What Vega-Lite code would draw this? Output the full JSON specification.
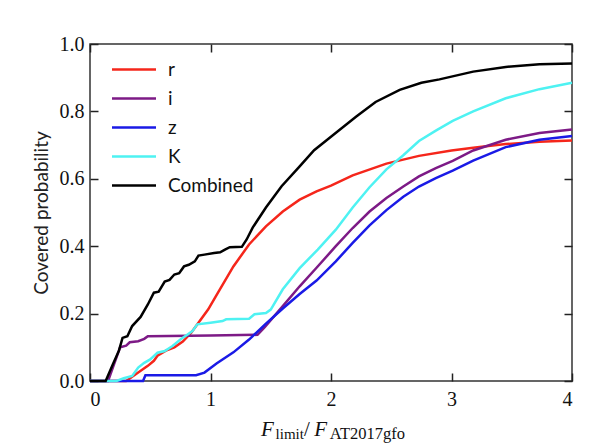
{
  "$schema": "https://vega.github.io/schema/vega-lite/v6.json",
  "width": 482,
  "height": 337,
  "autosize": {"type": "none"},
  "padding": {"left": 90, "top": 44, "right": 39, "bottom": 62},
  "background": "white",
  "config": {
    "view": {"stroke": "#333333", "strokeWidth": 1.5},
    "axis": {
      "grid": false,
      "domain": false,
      "tickColor": "#222222",
      "tickWidth": 1.5,
      "tickSize": -8,
      "labelFont": "Liberation Serif",
      "labelFontSize": 20,
      "labelColor": "#111111",
      "titleFont": "Lato",
      "titleFontSize": 19,
      "titleFontWeight": "normal",
      "titleColor": "#222222"
    }
  },
  "datasets": {
    "curves": [
      {"band": "r", "x": 0, "y": 0}, {"band": "r", "x": 0.30, "y": 0}, {"band": "r", "x": 0.40, "y": 0.025}, {"band": "r", "x": 0.48, "y": 0.045}, {"band": "r", "x": 0.53, "y": 0.06}, {"band": "r", "x": 0.56, "y": 0.075}, {"band": "r", "x": 0.63, "y": 0.09}, {"band": "r", "x": 0.70, "y": 0.10}, {"band": "r", "x": 0.77, "y": 0.117}, {"band": "r", "x": 0.84, "y": 0.143}, {"band": "r", "x": 0.90, "y": 0.173}, {"band": "r", "x": 0.98, "y": 0.212}, {"band": "r", "x": 1.05, "y": 0.255}, {"band": "r", "x": 1.19, "y": 0.34}, {"band": "r", "x": 1.32, "y": 0.405}, {"band": "r", "x": 1.46, "y": 0.459}, {"band": "r", "x": 1.60, "y": 0.503}, {"band": "r", "x": 1.74, "y": 0.538}, {"band": "r", "x": 1.88, "y": 0.563}, {"band": "r", "x": 2.0, "y": 0.58}, {"band": "r", "x": 2.18, "y": 0.61}, {"band": "r", "x": 2.46, "y": 0.645}, {"band": "r", "x": 2.73, "y": 0.668}, {"band": "r", "x": 3.0, "y": 0.684}, {"band": "r", "x": 3.18, "y": 0.692}, {"band": "r", "x": 3.45, "y": 0.703}, {"band": "r", "x": 3.73, "y": 0.71}, {"band": "r", "x": 4.0, "y": 0.714},
      {"band": "i", "x": 0, "y": 0}, {"band": "i", "x": 0.15, "y": 0}, {"band": "i", "x": 0.20, "y": 0.05}, {"band": "i", "x": 0.25, "y": 0.10}, {"band": "i", "x": 0.30, "y": 0.105}, {"band": "i", "x": 0.33, "y": 0.115}, {"band": "i", "x": 0.40, "y": 0.118}, {"band": "i", "x": 0.45, "y": 0.125}, {"band": "i", "x": 0.48, "y": 0.133}, {"band": "i", "x": 1.0, "y": 0.135}, {"band": "i", "x": 1.39, "y": 0.137}, {"band": "i", "x": 1.45, "y": 0.16}, {"band": "i", "x": 1.60, "y": 0.222}, {"band": "i", "x": 1.74, "y": 0.281}, {"band": "i", "x": 1.88, "y": 0.336}, {"band": "i", "x": 2.04, "y": 0.40}, {"band": "i", "x": 2.18, "y": 0.454}, {"band": "i", "x": 2.32, "y": 0.503}, {"band": "i", "x": 2.46, "y": 0.543}, {"band": "i", "x": 2.60, "y": 0.577}, {"band": "i", "x": 2.73, "y": 0.607}, {"band": "i", "x": 2.87, "y": 0.632}, {"band": "i", "x": 3.01, "y": 0.653}, {"band": "i", "x": 3.18, "y": 0.684}, {"band": "i", "x": 3.45, "y": 0.716}, {"band": "i", "x": 3.73, "y": 0.736}, {"band": "i", "x": 4.0, "y": 0.746},
      {"band": "z", "x": 0, "y": 0}, {"band": "z", "x": 0.44, "y": 0}, {"band": "z", "x": 0.46, "y": 0.017}, {"band": "z", "x": 0.88, "y": 0.017}, {"band": "z", "x": 0.95, "y": 0.025}, {"band": "z", "x": 1.05, "y": 0.052}, {"band": "z", "x": 1.19, "y": 0.085}, {"band": "z", "x": 1.32, "y": 0.123}, {"band": "z", "x": 1.46, "y": 0.17}, {"band": "z", "x": 1.60, "y": 0.215}, {"band": "z", "x": 1.74, "y": 0.258}, {"band": "z", "x": 1.88, "y": 0.298}, {"band": "z", "x": 2.04, "y": 0.355}, {"band": "z", "x": 2.18, "y": 0.41}, {"band": "z", "x": 2.32, "y": 0.462}, {"band": "z", "x": 2.46, "y": 0.507}, {"band": "z", "x": 2.60, "y": 0.547}, {"band": "z", "x": 2.73, "y": 0.577}, {"band": "z", "x": 2.87, "y": 0.602}, {"band": "z", "x": 3.01, "y": 0.624}, {"band": "z", "x": 3.18, "y": 0.654}, {"band": "z", "x": 3.45, "y": 0.694}, {"band": "z", "x": 3.73, "y": 0.716}, {"band": "z", "x": 4.0, "y": 0.727},
      {"band": "K", "x": 0, "y": 0}, {"band": "K", "x": 0.22, "y": 0}, {"band": "K", "x": 0.28, "y": 0.008}, {"band": "K", "x": 0.35, "y": 0.015}, {"band": "K", "x": 0.40, "y": 0.04}, {"band": "K", "x": 0.45, "y": 0.054}, {"band": "K", "x": 0.50, "y": 0.064}, {"band": "K", "x": 0.56, "y": 0.084}, {"band": "K", "x": 0.62, "y": 0.089}, {"band": "K", "x": 0.685, "y": 0.104}, {"band": "K", "x": 0.75, "y": 0.123}, {"band": "K", "x": 0.81, "y": 0.138}, {"band": "K", "x": 0.85, "y": 0.148}, {"band": "K", "x": 0.89, "y": 0.168}, {"band": "K", "x": 1.0, "y": 0.173}, {"band": "K", "x": 1.10, "y": 0.178}, {"band": "K", "x": 1.13, "y": 0.183}, {"band": "K", "x": 1.32, "y": 0.185}, {"band": "K", "x": 1.365, "y": 0.198}, {"band": "K", "x": 1.46, "y": 0.202}, {"band": "K", "x": 1.50, "y": 0.212}, {"band": "K", "x": 1.60, "y": 0.272}, {"band": "K", "x": 1.74, "y": 0.335}, {"band": "K", "x": 1.89, "y": 0.39}, {"band": "K", "x": 2.04, "y": 0.449}, {"band": "K", "x": 2.18, "y": 0.515}, {"band": "K", "x": 2.32, "y": 0.575}, {"band": "K", "x": 2.46, "y": 0.628}, {"band": "K", "x": 2.60, "y": 0.67}, {"band": "K", "x": 2.73, "y": 0.712}, {"band": "K", "x": 2.87, "y": 0.743}, {"band": "K", "x": 3.01, "y": 0.772}, {"band": "K", "x": 3.18, "y": 0.80}, {"band": "K", "x": 3.45, "y": 0.839}, {"band": "K", "x": 3.73, "y": 0.866}, {"band": "K", "x": 4.0, "y": 0.885},
      {"band": "Combined", "x": 0, "y": 0}, {"band": "Combined", "x": 0.13, "y": 0}, {"band": "Combined", "x": 0.19, "y": 0.05}, {"band": "Combined", "x": 0.24, "y": 0.09}, {"band": "Combined", "x": 0.27, "y": 0.128}, {"band": "Combined", "x": 0.31, "y": 0.133}, {"band": "Combined", "x": 0.35, "y": 0.163}, {"band": "Combined", "x": 0.42, "y": 0.19}, {"band": "Combined", "x": 0.48, "y": 0.227}, {"band": "Combined", "x": 0.53, "y": 0.262}, {"band": "Combined", "x": 0.57, "y": 0.265}, {"band": "Combined", "x": 0.62, "y": 0.295}, {"band": "Combined", "x": 0.66, "y": 0.30}, {"band": "Combined", "x": 0.70, "y": 0.316}, {"band": "Combined", "x": 0.74, "y": 0.32}, {"band": "Combined", "x": 0.78, "y": 0.34}, {"band": "Combined", "x": 0.82, "y": 0.345}, {"band": "Combined", "x": 0.87, "y": 0.355}, {"band": "Combined", "x": 0.90, "y": 0.372}, {"band": "Combined", "x": 0.95, "y": 0.375}, {"band": "Combined", "x": 1.03, "y": 0.38}, {"band": "Combined", "x": 1.08, "y": 0.382}, {"band": "Combined", "x": 1.12, "y": 0.39}, {"band": "Combined", "x": 1.16, "y": 0.397}, {"band": "Combined", "x": 1.26, "y": 0.398}, {"band": "Combined", "x": 1.30, "y": 0.42}, {"band": "Combined", "x": 1.35, "y": 0.455}, {"band": "Combined", "x": 1.46, "y": 0.515}, {"band": "Combined", "x": 1.59, "y": 0.578}, {"band": "Combined", "x": 1.74, "y": 0.637}, {"band": "Combined", "x": 1.86, "y": 0.685}, {"band": "Combined", "x": 2.01, "y": 0.728}, {"band": "Combined", "x": 2.21, "y": 0.785}, {"band": "Combined", "x": 2.37, "y": 0.828}, {"band": "Combined", "x": 2.57, "y": 0.864}, {"band": "Combined", "x": 2.75, "y": 0.885}, {"band": "Combined", "x": 2.90, "y": 0.895}, {"band": "Combined", "x": 3.18, "y": 0.918}, {"band": "Combined", "x": 3.45, "y": 0.932}, {"band": "Combined", "x": 3.73, "y": 0.94}, {"band": "Combined", "x": 4.0, "y": 0.942}
    ]
  },
  "layer": [
    {
      "data": {"name": "curves"},
      "mark": {"type": "point", "opacity": 0},
      "encoding": {
        "x": {"field": "x", "type": "quantitative", "scale": {"domain": [0, 4], "nice": false},
              "axis": {"orient": "top", "values": [0, 1, 2, 3, 4], "labels": false, "title": null}},
        "y": {"field": "y", "type": "quantitative", "scale": {"domain": [0, 1], "nice": false},
              "axis": {"orient": "right", "values": [0, 0.2, 0.4, 0.6, 0.8, 1.0], "labels": false, "title": null}}
      }
    },
    {
      "data": {"name": "curves"},
      "mark": {"type": "line", "strokeWidth": 2.5},
      "encoding": {
        "x": {
          "field": "x", "type": "quantitative",
          "scale": {"domain": [0, 4], "nice": false},
          "axis": {"orient": "bottom", "values": [0, 1, 2, 3, 4], "format": "d", "labelPadding": 16, "title": null}
        },
        "y": {
          "field": "y", "type": "quantitative",
          "scale": {"domain": [0, 1], "nice": false},
          "axis": {"orient": "left", "values": [0, 0.2, 0.4, 0.6, 0.8, 1.0], "format": ".1f", "labelPadding": 14, "title": "Covered probability", "titlePadding": 8}
        },
        "color": {
          "field": "band", "type": "nominal",
          "scale": {"domain": ["r", "i", "z", "K", "Combined"], "range": ["#f5261b", "#7d1a86", "#1a1ae6", "#4ef2f2", "#000000"]},
          "legend": {
            "title": null, "orient": "none", "legendX": 18, "legendY": 16,
            "symbolType": "M-1,0H7", "symbolSize": 121, "symbolStrokeWidth": 2.5,
            "labelFont": "Lato", "labelFontSize": 19, "labelColor": "#111111", "labelOffset": 41,
            "rowPadding": 9, "padding": 0
          }
        }
      }
    },
    {
      "data": {"values": [{}]},
      "mark": {"type": "text", "text": "F", "font": "Liberation Serif", "fontStyle": "italic", "fontSize": 21, "align": "left", "baseline": "alphabetic", "color": "#111111"},
      "encoding": {
        "x": {"datum": 1.42, "type": "quantitative", "scale": {"domain": [0, 4], "nice": false}, "axis": null},
        "y": {"datum": -0.163, "type": "quantitative", "scale": {"domain": [0, 1], "nice": false}, "axis": null}
      }
    },
    {
      "data": {"values": [{}]},
      "mark": {"type": "text", "text": "limit", "font": "Liberation Serif", "fontSize": 15, "align": "left", "baseline": "alphabetic", "color": "#111111"},
      "encoding": {
        "x": {"datum": 1.54, "type": "quantitative", "scale": {"domain": [0, 4], "nice": false}, "axis": null},
        "y": {"datum": -0.172, "type": "quantitative", "scale": {"domain": [0, 1], "nice": false}, "axis": null}
      }
    },
    {
      "data": {"values": [{}]},
      "mark": {"type": "text", "text": "/", "font": "Liberation Serif", "fontSize": 21, "align": "left", "baseline": "alphabetic", "color": "#111111"},
      "encoding": {
        "x": {"datum": 1.775, "type": "quantitative", "scale": {"domain": [0, 4], "nice": false}, "axis": null},
        "y": {"datum": -0.163, "type": "quantitative", "scale": {"domain": [0, 1], "nice": false}, "axis": null}
      }
    },
    {
      "data": {"values": [{}]},
      "mark": {"type": "text", "text": "F", "font": "Liberation Serif", "fontStyle": "italic", "fontSize": 21, "align": "left", "baseline": "alphabetic", "color": "#111111"},
      "encoding": {
        "x": {"datum": 1.862, "type": "quantitative", "scale": {"domain": [0, 4], "nice": false}, "axis": null},
        "y": {"datum": -0.163, "type": "quantitative", "scale": {"domain": [0, 1], "nice": false}, "axis": null}
      }
    },
    {
      "data": {"values": [{}]},
      "mark": {"type": "text", "text": "AT2017gfo", "font": "Liberation Serif", "fontSize": 16.5, "align": "left", "baseline": "alphabetic", "color": "#111111"},
      "encoding": {
        "x": {"datum": 1.99, "type": "quantitative", "scale": {"domain": [0, 4], "nice": false}, "axis": null},
        "y": {"datum": -0.172, "type": "quantitative", "scale": {"domain": [0, 1], "nice": false}, "axis": null}
      }
    }
  ],
  "resolve": {"axis": {"x": "independent", "y": "independent"}}
}
